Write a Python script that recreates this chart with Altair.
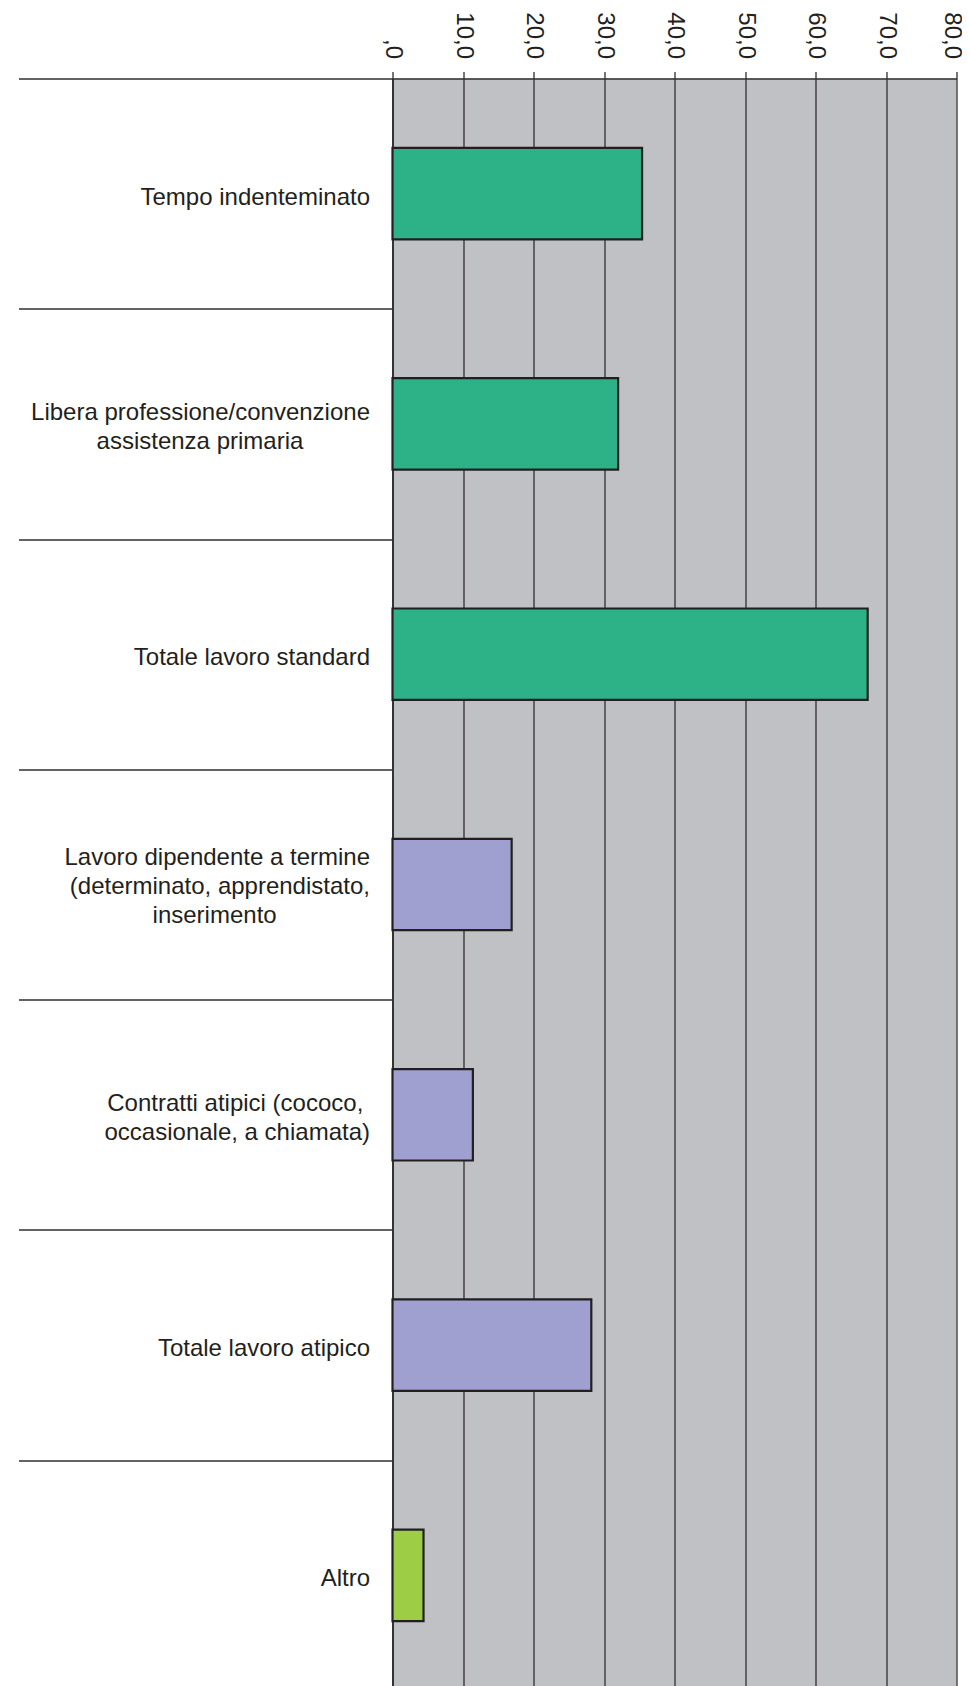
import altair as alt
import pandas as pd

NB = "\u00a0"
WJ = "\u2060"

categories = [
    "Tempo indenteminato",
    "Libera professione/convenzione\nassistenza primaria" + NB * 10 + WJ,
    "Totale lavoro standard",
    "Lavoro dipendente a termine\n(determinato, apprendistato,\ninserimento" + NB * 14 + WJ,
    "Contratti atipici (cococo," + NB + WJ + "\noccasionale, a chiamata)",
    "Totale lavoro atipico",
    "Altro",
]
values = [35.4, 32.0, 67.4, 16.9, 11.4, 28.2, 4.4]
groups = ["standard", "standard", "standard", "atipico", "atipico", "atipico", "altro"]
group_domain = ["standard", "atipico", "altro"]
group_colors = ["#2db187", "#9fa0cf", "#9ccd45"]
x_ticks = [0, 10, 20, 30, 40, 50, 60, 70, 80]

df = pd.DataFrame({"categoria": categories, "valore": values, "gruppo": groups})

FONT = "Liberation Sans"
INK = "#231f20"
LINE = "#2f2f2f"

y_label_offset = {
    "condition": [
        {"test": "length(split(datum.label, '\\n')) == 3", "value": -27.5},
        {"test": "length(split(datum.label, '\\n')) == 2", "value": -11.5},
    ],
    "value": 3.5,
}
x_label_offset = {"condition": {"test": "datum.value == 80", "value": -5}, "value": 0}

chart = (
    alt.Chart(df)
    .mark_bar(height={"band": 0.397}, stroke=INK, strokeWidth=2.2)
    .encode(
        x=alt.X(
            "valore:Q",
            scale=alt.Scale(domain=[0, 80], nice=False),
            axis=alt.Axis(
                orient="top",
                title=None,
                values=x_ticks,
                labelExpr="datum.value == 0 ? ',0' : replace(format(datum.value, '.1f'), '.', ',')",
                labelAngle=90,
                labelAlign="right",
                labelBaseline="middle",
                labelFont=FONT,
                labelFontSize=24,
                labelColor=INK,
                labelPadding=13,
                labelOffset=x_label_offset,
                tickSize=7,
                tickColor=LINE,
                tickWidth=1.3,
                domainColor=LINE,
                domainWidth=1.6,
                grid=True,
                gridColor=LINE,
                gridWidth=1.3,
                gridOpacity=1,
            ),
        ),
        y=alt.Y(
            "categoria:N",
            sort=categories,
            scale=alt.Scale(paddingInner=0, paddingOuter=0),
            axis=alt.Axis(
                title=None,
                orient="left",
                tickBand="extent",
                tickSize=374,
                tickColor=LINE,
                tickWidth=1.3,
                domainColor=LINE,
                domainWidth=1.8,
                labelExpr="split(datum.label, '\\n')",
                labelFont=FONT,
                labelFontSize=24,
                labelLineHeight=29,
                labelColor=INK,
                labelAlign="right",
                labelBaseline="middle",
                labelPadding=-351,
                labelOffset=y_label_offset,
                labelLimit=0,
                grid=False,
            ),
        ),
        color=alt.Color(
            "gruppo:N",
            scale=alt.Scale(domain=group_domain, range=group_colors),
            legend=None,
        ),
    )
    .properties(
        width=564,
        height=1612,
        background="white",
        autosize=alt.AutoSizeParams(type="none"),
        padding={"left": 384.5, "top": 70.5, "right": 5.5, "bottom": 0},
    )
    .configure_view(fill="#c0c1c5", stroke=None)
)

chart.save("out.html", embed_options={"renderer": "svg", "actions": False})
